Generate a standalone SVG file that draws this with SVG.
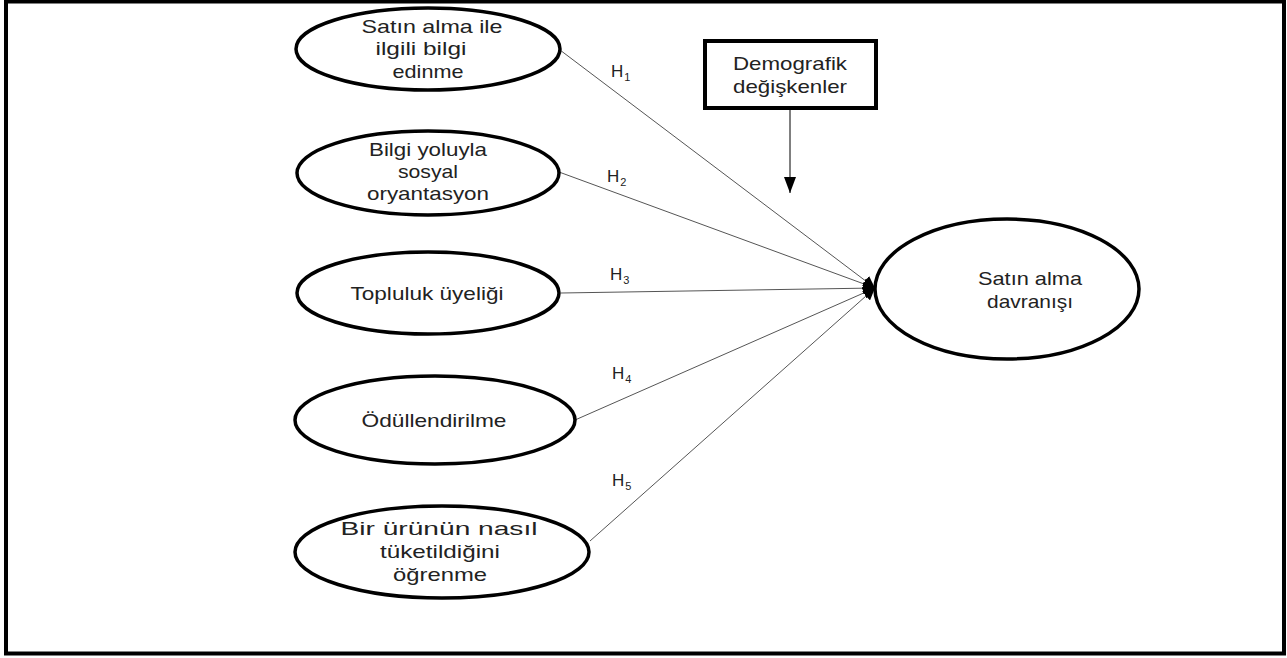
<svg xmlns="http://www.w3.org/2000/svg" width="1287" height="658" viewBox="0 0 1287 658">
<defs>
<style>
.n{fill:#fff;stroke:#000;stroke-width:3.5}
.t{font-family:"Liberation Sans","Open Sans",sans-serif;font-size:19px;fill:#222;text-anchor:middle}
.c{stroke:#555;stroke-width:1;fill:none}
.h{font-family:"Liberation Sans","Open Sans",sans-serif;font-size:17px;letter-spacing:1px;fill:#222}
.s{font-size:11px}
</style>
<marker id="ah" viewBox="0 0 10 10" refX="10" refY="5" markerWidth="12" markerHeight="12" markerUnits="userSpaceOnUse" orient="auto">
<path d="M0,0 L10,5 L0,10 z" fill="#000"/>
</marker>
<marker id="ad" viewBox="0 0 16 12" refX="16" refY="6" markerWidth="16" markerHeight="12" markerUnits="userSpaceOnUse" orient="auto">
<path d="M0,0 L16,6 L0,12 z" fill="#000"/>
</marker>
</defs>
<rect x="0" y="0" width="1287" height="658" fill="#fff"/>
<rect x="6" y="1.5" width="1278" height="652" fill="none" stroke="#000" stroke-width="4"/>
<g id="connectors">
<line class="c" x1="560" y1="50" x2="875" y2="288" marker-end="url(#ah)"/>
<line class="c" x1="559" y1="172" x2="875" y2="288" marker-end="url(#ah)"/>
<line class="c" x1="561" y1="293" x2="875" y2="288" marker-end="url(#ah)"/>
<line class="c" x1="575" y1="420" x2="875" y2="288" marker-end="url(#ah)"/>
<line class="c" x1="590" y1="541" x2="875" y2="288" marker-end="url(#ah)"/>
<line x1="790" y1="109" x2="790" y2="193" stroke="#000" stroke-width="1" marker-end="url(#ad)"/>
<text class="h" x="611" y="77">H<tspan class="s" dy="4">1</tspan></text>
<text class="h" x="607" y="182">H<tspan class="s" dy="4">2</tspan></text>
<text class="h" x="610" y="280">H<tspan class="s" dy="4">3</tspan></text>
<text class="h" x="612" y="379">H<tspan class="s" dy="4">4</tspan></text>
<text class="h" x="612" y="486">H<tspan class="s" dy="4">5</tspan></text>
</g>
<g id="n1">
<ellipse class="n" cx="428" cy="49" rx="132" ry="41"/>
<text class="t" x="432" y="33" textLength="141" lengthAdjust="spacingAndGlyphs">Satın alma ile</text>
<text class="t" x="421" y="55" textLength="91" lengthAdjust="spacingAndGlyphs">ilgili bilgi</text>
<text class="t" x="428" y="78" textLength="71" lengthAdjust="spacingAndGlyphs">edinme</text>
</g>
<g id="n2">
<ellipse class="n" cx="428" cy="173" rx="131" ry="42"/>
<text class="t" x="428" y="156" textLength="118" lengthAdjust="spacingAndGlyphs">Bilgi yoluyla</text>
<text class="t" x="428" y="178" textLength="60" lengthAdjust="spacingAndGlyphs">sosyal</text>
<text class="t" x="428" y="200" textLength="122" lengthAdjust="spacingAndGlyphs">oryantasyon</text>
</g>
<g id="n3">
<ellipse class="n" cx="428" cy="293" rx="131" ry="41"/>
<text class="t" x="427" y="300" textLength="153" lengthAdjust="spacingAndGlyphs">Topluluk üyeliği</text>
</g>
<g id="n4">
<ellipse class="n" cx="435" cy="420" rx="140" ry="44"/>
<text class="t" x="434" y="427" textLength="145" lengthAdjust="spacingAndGlyphs">Ödüllendirilme</text>
</g>
<g id="n5">
<ellipse class="n" cx="442" cy="552" rx="147" ry="46"/>
<text class="t" x="439" y="535" textLength="197" lengthAdjust="spacingAndGlyphs">Bir ürünün nasıl</text>
<text class="t" x="440" y="558" textLength="120" lengthAdjust="spacingAndGlyphs">tüketildiğini</text>
<text class="t" x="440" y="581" textLength="94" lengthAdjust="spacingAndGlyphs">öğrenme</text>
</g>
<g id="n6">
<ellipse class="n" cx="1007" cy="289" rx="132" ry="70"/>
<text class="t" x="1030" y="285" textLength="104" lengthAdjust="spacingAndGlyphs">Satın alma</text>
<text class="t" x="1030" y="308" textLength="86" lengthAdjust="spacingAndGlyphs">davranışı</text>
</g>
<g id="n7">
<rect x="705" y="41" width="171" height="67" fill="#fff" stroke="#000" stroke-width="4"/>
<text class="t" x="790" y="70" textLength="114" lengthAdjust="spacingAndGlyphs">Demografik</text>
<text class="t" x="790" y="93" textLength="114" lengthAdjust="spacingAndGlyphs">değişkenler</text>
</g>
</svg>
